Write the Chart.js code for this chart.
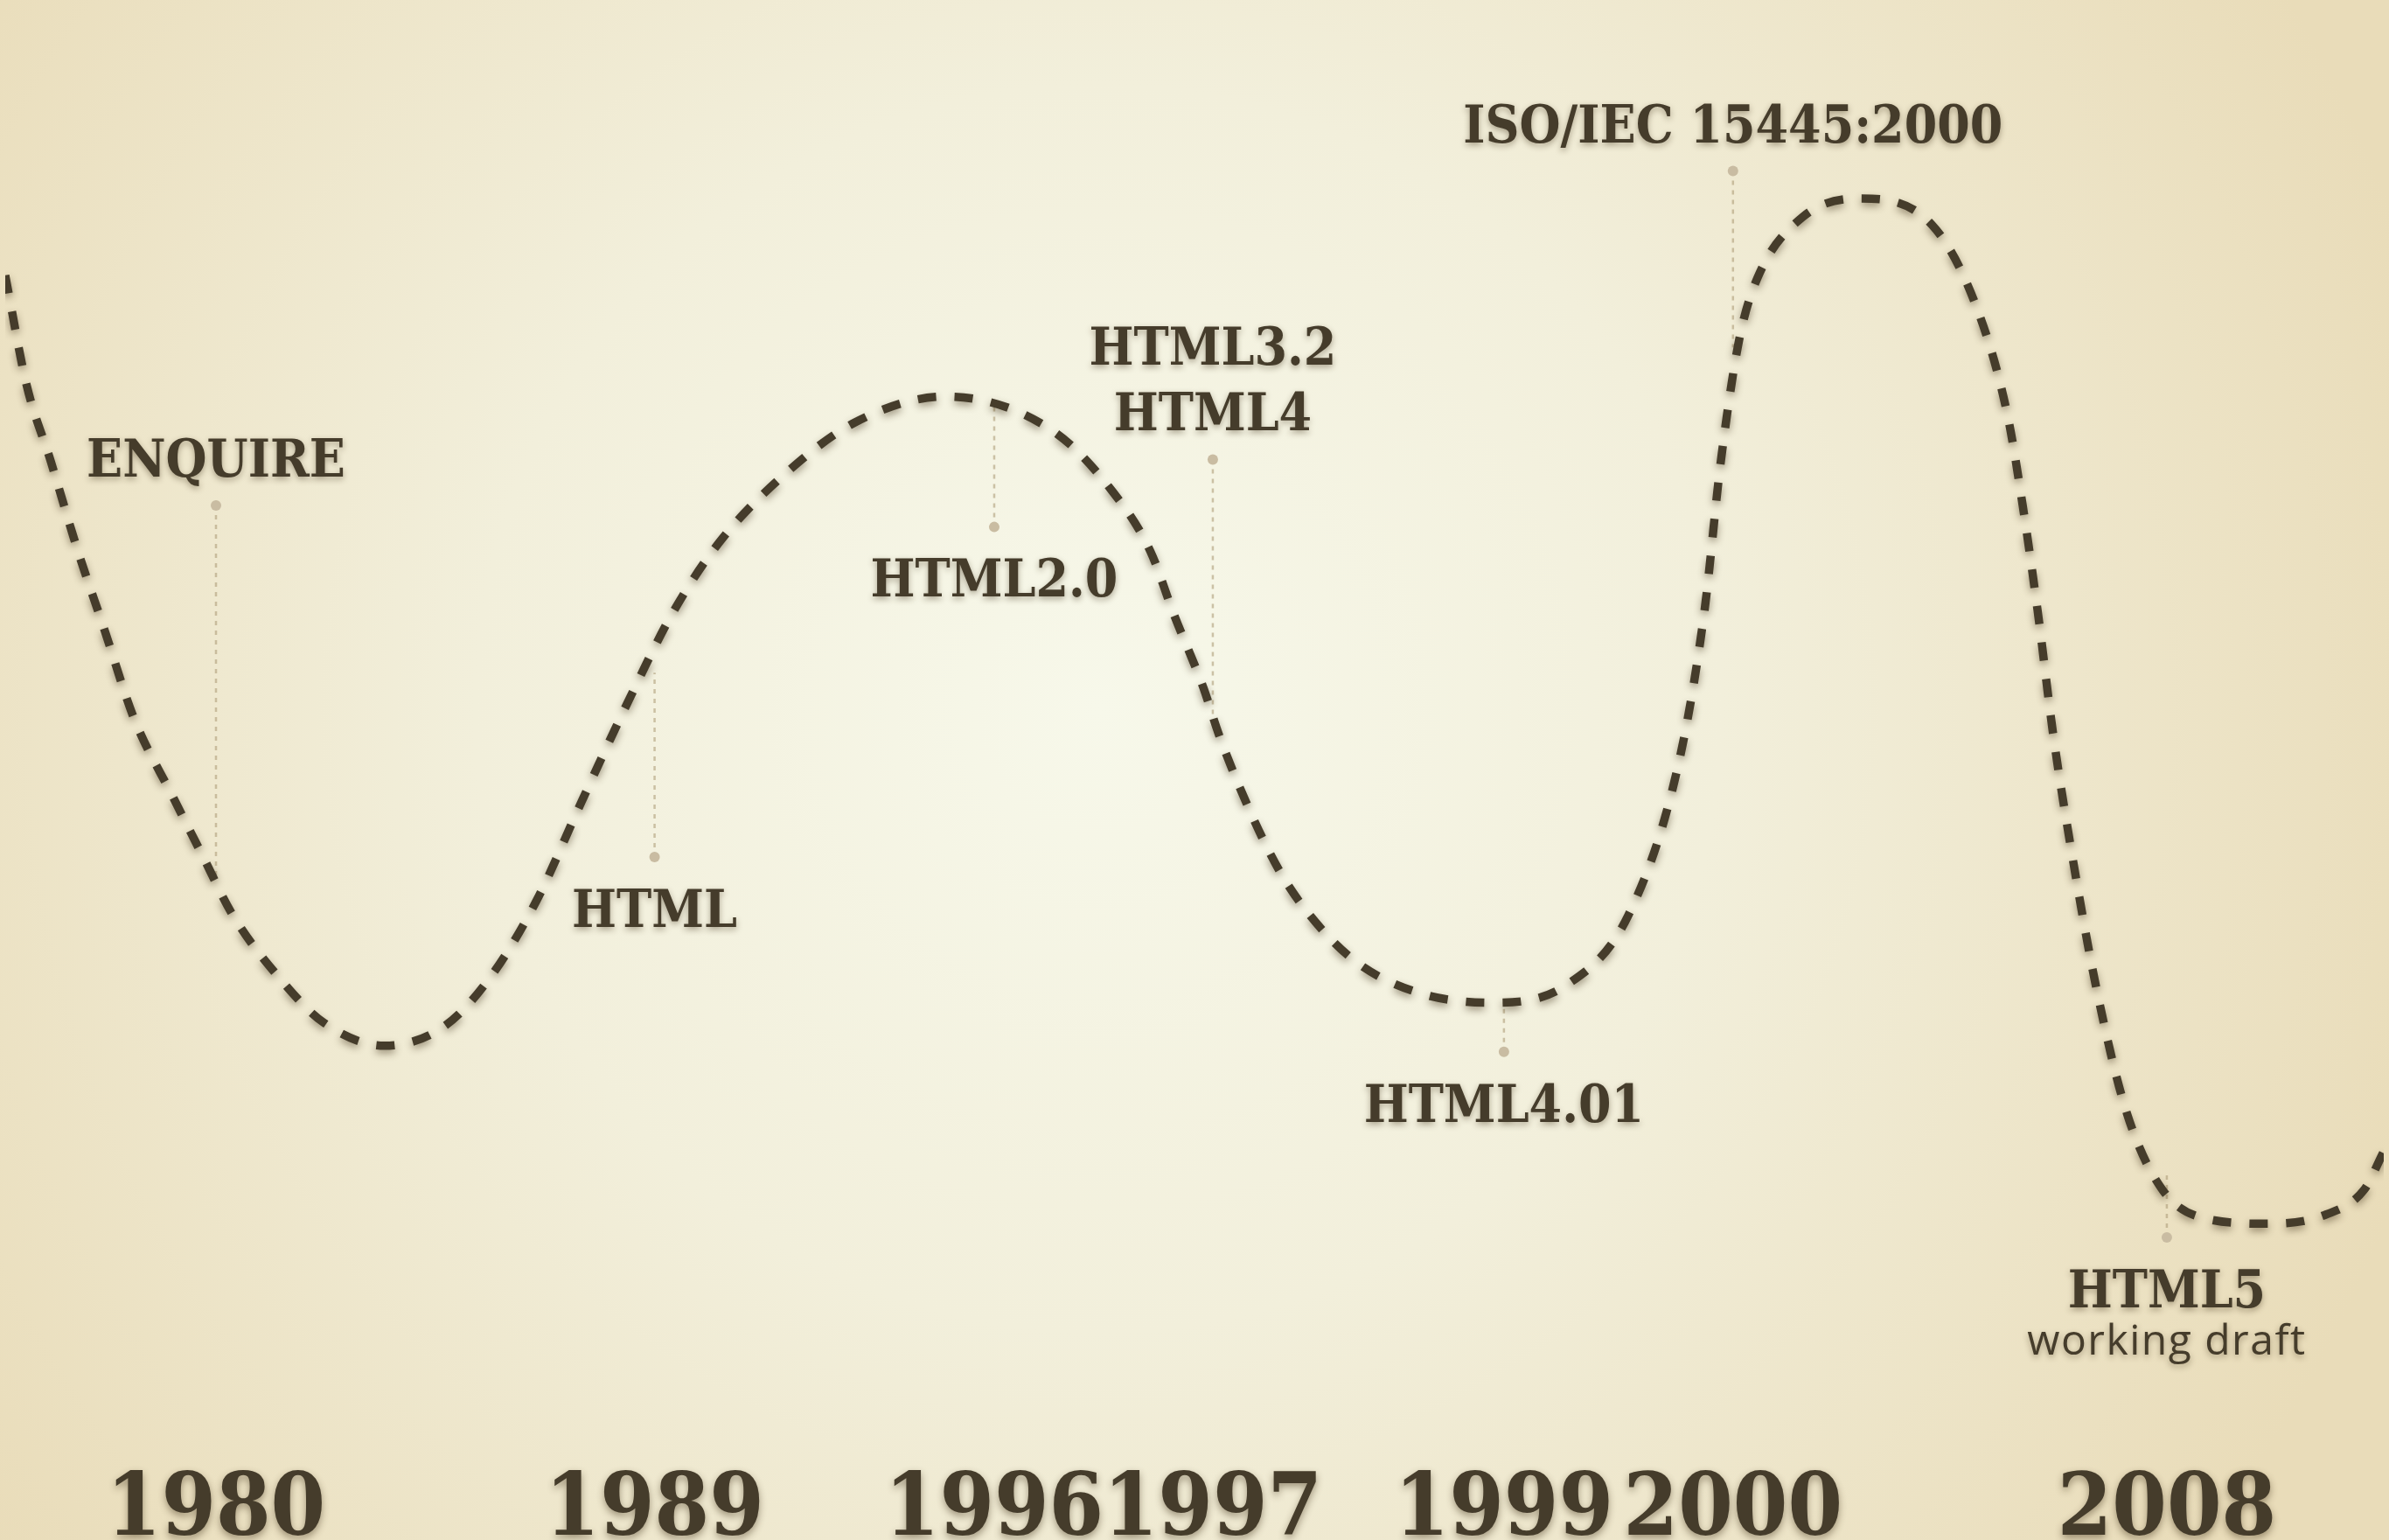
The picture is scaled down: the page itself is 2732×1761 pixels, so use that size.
<!DOCTYPE html>
<html>
<head>
<meta charset="utf-8">
<script src="https://cdn.jsdelivr.net/npm/chart.js@4.4.1/dist/chart.umd.min.js"></script>
<style>
  html, body { margin: 0; padding: 0; overflow: hidden; background: #f1ecd6; }
  canvas { display: block; }
</style>
</head>
<body>
<canvas id="c" width="2732" height="1761"></canvas>
<script>
// ---- data (x: position along timeline in % of width, level: height in % of picture height) ----
const curveX = [0, 0.89, 1.91, 3.06, 4.15, 5.42, 7.02, 8.29, 9.57, 11.48, 13.39, 15.94, 18.49, 20.41, 22.32, 24.23, 26.15, 28.06, 29.97, 32.53, 35.71, 39.54, 44.01, 46.56, 48.15, 49.11, 50.38, 51.02, 52.30, 53.57, 54.85, 56.76, 59.31, 62.50, 65.69, 68.24, 70.34, 71.43, 72.13, 72.90, 73.66, 75.57, 77.93, 81.00, 82.91, 84.18, 84.82, 85.46, 86.10, 86.90, 87.95, 89.20, 90.70, 92.60, 95.15, 97.58, 99.17, 100];
const curveLevel = [82.4, 75.3, 70.3, 64.4, 59.4, 53.5, 48.5, 44.6, 40.7, 36.7, 33.7, 32.2, 33.5, 36.7, 41.6, 48.1, 54.5, 60.4, 64.9, 69.1, 72.8, 74.5, 72.3, 68.3, 64.4, 60.4, 55.5, 52.5, 47.6, 43.6, 40.7, 37.7, 35.7, 35.0, 36.2, 40.7, 50.5, 60.4, 70.3, 78.2, 82.2, 86.2, 87.4, 85.7, 80.2, 73.3, 67.4, 60.4, 52.5, 44.6, 35.7, 27.8, 22.8, 20.9, 20.6, 21.2, 22.8, 25.3];

const years = ['1980', '1989', '1996', '1997', '1999', '2000', '2008'];
const eventX = [8.86, 27.30, 41.58, 50.77, 63.01, 72.64, 90.88];
const eventLabels = [['ENQUIRE'], ['HTML'], ['HTML2.0'], ['HTML3.2', 'HTML4'], ['HTML4.01'], ['ISO/IEC 15445:2000'], ['HTML5']];
const eventSubLabels = ['', '', '', '', '', '', 'working draft'];
const dotLevel = [67.4, 44.5, 66.0, 70.4, 31.8, 89.2, 19.7];
const lineEndLevel = [43.1, 56.5, 74.1, 53.5, 35.0, 77.7, 23.8];
const labelSide = ['above', 'below', 'below', 'above', 'below', 'above', 'below'];

// ---- style ----
const INK = '#453c2b';
const TICK_SIZE = 100, TICK_LH = 0.5, TICK_PAD = 7;
const H = 1761;
const Y_MIN = (TICK_SIZE * TICK_LH + 2 * TICK_PAD) / H * 100;
const LABEL_FONT = "'DejaVu Serif Condensed', 'DejaVu Serif', serif";
const LABEL_SIZE = 60;

const curveData = curveX.map((x, i) => ({ x: x, y: curveLevel[i] }));
const datasets = [{
  data: curveData,
  borderColor: INK,
  borderWidth: 9.5,
  borderDash: [21, 21],
  borderCapStyle: 'butt',
  pointRadius: 0,
  cubicInterpolationMode: 'monotone',
  fill: false
}];
eventX.forEach((x, i) => {
  datasets.push({
    data: [{ x: x, y: dotLevel[i] }, { x: x, y: lineEndLevel[i] }],
    borderColor: 'rgba(175,158,122,0.6)',
    borderWidth: 2.5,
    borderDash: [5, 6],
    pointRadius: [6, 0],
    pointBackgroundColor: '#c9bca2',
    pointBorderWidth: 0,
    fill: false
  });
});

const decor = {
  id: 'decor',
  beforeDraw(chart) {
    const ctx = chart.ctx, w = chart.width, h = chart.height;
    ctx.save();
    const g = ctx.createRadialGradient(w * 0.46, h * 0.46, 0, w * 0.46, h * 0.46, w * 0.58);
    g.addColorStop(0, '#f7f8ea');
    g.addColorStop(0.45, '#f2efdb');
    g.addColorStop(1, '#e9dcb9');
    ctx.fillStyle = g;
    ctx.fillRect(0, 0, w, h);
    ctx.restore();
    // shadow for tick labels
    ctx.shadowColor = 'rgba(60,45,20,0.45)';
    ctx.shadowBlur = 8;
    ctx.shadowOffsetY = 4;
  },
  beforeDatasetsDraw(chart) {
    const ctx = chart.ctx;
    ctx.shadowColor = 'rgba(0,0,0,0)';
    ctx.shadowBlur = 0;
    ctx.shadowOffsetY = 0;
  },
  beforeDatasetDraw(chart, args) {
    if (args.index === 0) {
      const ctx = chart.ctx;
      ctx.save();
      ctx.shadowColor = 'rgba(60,45,20,0.45)';
      ctx.shadowBlur = 9;
      ctx.shadowOffsetY = 4;
    }
  },
  afterDatasetDraw(chart, args) {
    if (args.index === 0) chart.ctx.restore();
  },
  afterDatasetsDraw(chart) {
    const ctx = chart.ctx;
    const xs = chart.scales.x, ys = chart.scales.y;
    ctx.save();
    ctx.shadowColor = 'rgba(60,45,20,0.4)';
    ctx.shadowBlur = 7;
    ctx.shadowOffsetY = 3;
    ctx.fillStyle = INK;
    ctx.textAlign = 'center';
    ctx.textBaseline = 'alphabetic';
    const cap = LABEL_SIZE * 0.73;
    const lineGap = 75;
    eventX.forEach((x, i) => {
      const px = xs.getPixelForValue(x);
      const py = ys.getPixelForValue(dotLevel[i]);
      const lines = eventLabels[i];
      ctx.font = '600 ' + LABEL_SIZE + 'px ' + LABEL_FONT;
      if (labelSide[i] === 'above') {
        let base = py - 33 - (lines.length - 1) * lineGap;
        lines.forEach((t, k) => ctx.fillText(t, px, base + k * lineGap));
      } else {
        let base = py + 36 + cap;
        lines.forEach((t, k) => ctx.fillText(t, px, base + k * lineGap));
        if (eventSubLabels[i]) {
          ctx.font = '400 48px "Open Sans", Lato, sans-serif';
          try { ctx.letterSpacing = '1.5px'; } catch (e) {}
          ctx.fillText(eventSubLabels[i], px, base + (lines.length - 1) * lineGap + 54);
          try { ctx.letterSpacing = '0px'; } catch (e) {}
        }
      }
    });
    ctx.restore();
  },
  afterDraw(chart) {
    const ctx = chart.ctx;
    ctx.shadowColor = 'rgba(0,0,0,0)';
    ctx.shadowBlur = 0;
    ctx.shadowOffsetY = 0;
  }
};

new Chart(document.getElementById('c'), {
  type: 'line',
  data: { datasets: datasets },
  options: {
    responsive: false,
    devicePixelRatio: 1,
    animation: false,
    layout: { padding: 0 },
    plugins: { legend: { display: false }, tooltip: { enabled: false } },
    scales: {
      x: {
        type: 'linear',
        min: 0,
        max: 100,
        grid: { display: false, drawTicks: false },
        border: { display: false },
        afterBuildTicks(scale) { scale.ticks = eventX.map(v => ({ value: v })); },
        afterFit(scale) { scale._computeLabelArea = () => undefined; },
        ticks: {
          autoSkip: false,
          maxRotation: 0,
          minRotation: 0,
          padding: TICK_PAD,
          color: INK,
          font: { family: LABEL_FONT, size: TICK_SIZE, weight: 'bold', lineHeight: TICK_LH },
          callback: (v, i) => years[i]
        }
      },
      y: {
        type: 'linear',
        display: false,
        min: Y_MIN,
        max: 100
      }
    }
  },
  plugins: [decor]
});
</script>
</body>
</html>
